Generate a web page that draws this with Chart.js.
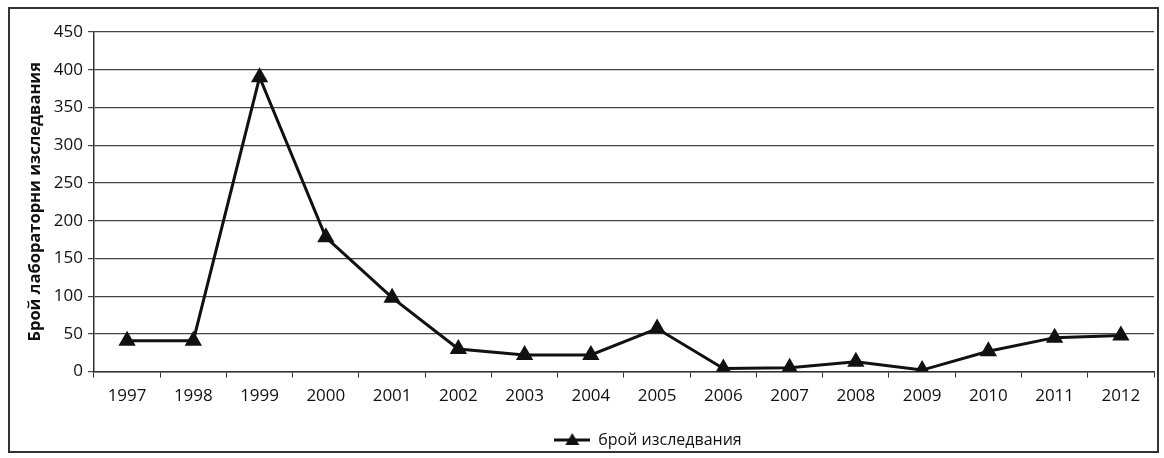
<!DOCTYPE html>
<html>
<head>
<meta charset="utf-8">
<script src="https://cdn.jsdelivr.net/npm/chart.js@4/dist/chart.umd.min.js"></script>
<style>
    html, body { margin: 0; padding: 0; background: #fff; overflow: hidden; }
    #box {
        position: absolute; left: 8px; top: 7px;
        width: 1147px; height: 442px;
        border: 2px solid #333;
    }
    #chart { position: absolute; left: 0; top: 0; display: block; }
</style>
</head>
<body>
<div id="box"></div>
<canvas id="chart" width="1164" height="458"></canvas>
<script>
// данни
const years = ['1997', '1998', '1999', '2000', '2001', '2002', '2003', '2004',
    '2005', '2006', '2007', '2008', '2009', '2010', '2011', '2012'];
const counts = [41, 41, 390, 178, 98, 30, 22, 22, 57, 4, 5, 13, 2, 27, 45, 48];
const seriesName = 'брой изследвания';
const yTitle = 'Брой лабораторни изследвания';

// иконка за легендата: линия + триъгълник
function legendIcon() {
    const c = document.createElement('canvas');
    c.width = 36; c.height = 14;
    const g = c.getContext('2d');
    g.strokeStyle = '#111';
    g.lineWidth = 3;
    g.beginPath();
    g.moveTo(0, 7); g.lineTo(36, 7);
    g.stroke();
    g.fillStyle = '#111';
    g.beginPath();
    g.moveTo(18, 0); g.lineTo(25, 12); g.lineTo(11, 12);
    g.closePath();
    g.fill();
    return c;
}

// легендата в оригинала е малко вдясно от центъра
const legendShift = {
    id: 'legendShift',
    afterLayout(chart) {
        const lg = chart.legend;
        if (lg) {
            lg.left += 58;
            lg.right += 58;
        }
    }
};

const font = "'Open Sans', sans-serif";

new Chart(document.getElementById('chart'), {
    type: 'line',
    data: {
        labels: years,
        datasets: [{
            label: seriesName,
            data: counts,
            borderColor: '#111',
            backgroundColor: '#111',
            borderWidth: 3,
            pointStyle: 'triangle',
            pointRadius: 7,
            pointHoverRadius: 7,
            tension: 0
        }]
    },
    plugins: [legendShift],
    options: {
        responsive: false,
        animation: false,
        layout: { padding: { top: 32, right: 9, left: 25, bottom: 0 } },
        plugins: {
            legend: {
                position: 'bottom',
                labels: {
                    usePointStyle: true,
                    pointStyle: legendIcon(),
                    pointStyleWidth: 36,
                    color: '#111',
                    font: { family: font, size: 16 },
                    padding: 18
                }
            },
            tooltip: { enabled: false }
        },
        scales: {
            x: {
                offset: true,
                grid: {
                    offset: true,
                    drawOnChartArea: false,
                    drawTicks: true,
                    tickLength: 6,
                    color: '#333'
                },
                border: { color: '#333', width: 1.5 },
                ticks: {
                    color: '#111',
                    font: { family: font, size: 17 },
                    padding: 8,
                    maxRotation: 0,
                    autoSkip: false
                }
            },
            y: {
                min: 0,
                max: 450,
                ticks: {
                    stepSize: 50,
                    color: '#111',
                    font: { family: font, size: 17 },
                    padding: 5
                },
                grid: {
                    color: '#444',
                    lineWidth: 1.2,
                    tickLength: 6
                },
                border: { color: '#333', width: 1.5 },
                title: {
                    display: true,
                    text: yTitle,
                    color: '#111',
                    font: { family: font, size: 16.5, weight: 'bold' },
                    padding: { top: 0, bottom: 4 }
                }
            }
        }
    }
});
</script>
</body>
</html>
